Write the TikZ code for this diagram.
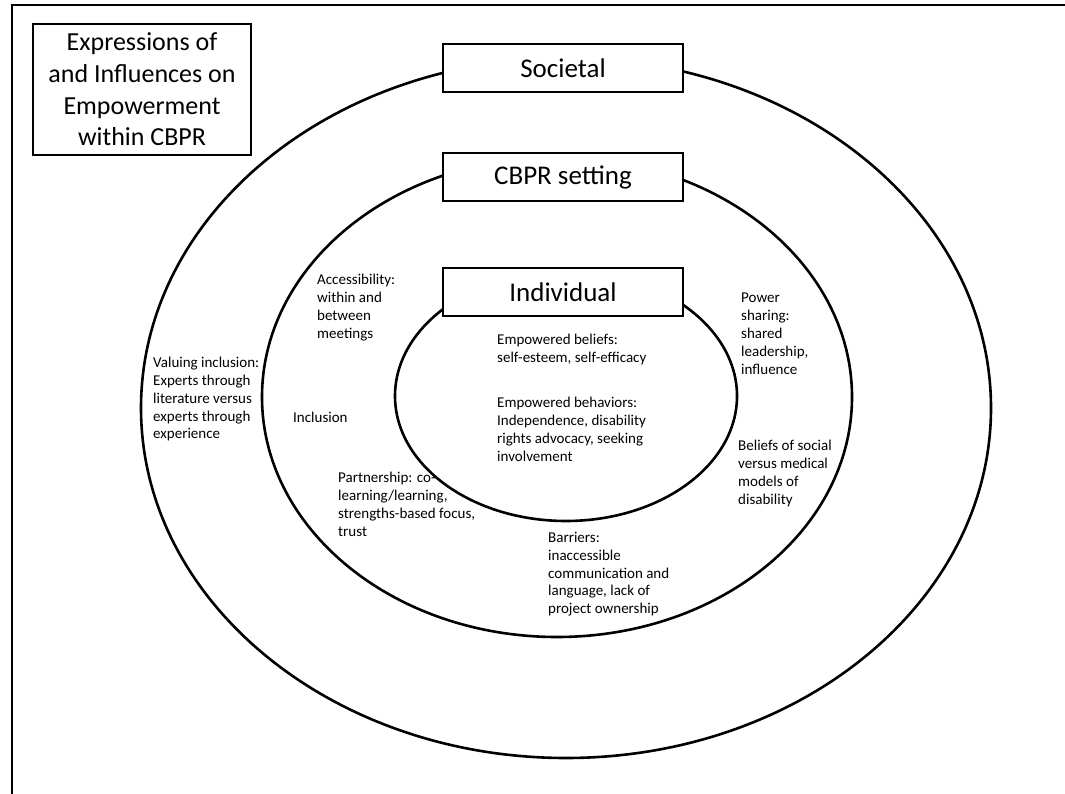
\documentclass[tikz,border=0pt]{standalone}
\usepackage{fontspec}
\setmainfont{Carlito}

\begin{document}
\begin{tikzpicture}[x=1pt, y=-1pt,
    ring/.style={line width=2.6pt},
    levelbox/.style={draw, line width=2.6pt, fill=white, minimum width=240pt, minimum height=48pt, inner sep=0pt, font=\fontsize{27}{32}\selectfont},
    note/.style={anchor=north west, align=left, inner sep=0pt, font=\fontsize{15}{17.8}\selectfont}]
    \useasboundingbox (0,0) rectangle (1065,794);

    % frame
    \draw[line width=1.8pt] (12,794) -- (12,5) -- (1065,5);

    % title
    \node[draw, line width=2.4pt, minimum width=218pt, minimum height=131pt, inner sep=0pt, align=center,
          font=\fontsize{26}{31.7}\selectfont] (title) at (142,89.5)
          {Expressions of\\and Influences on\\Empowerment\\within CBPR};

    % rings
    \draw[ring] (566,408) ellipse [x radius=425pt, y radius=350pt];
    \draw[ring] (557,397) ellipse [x radius=295pt, y radius=240pt];
    \draw[ring] (566,396) ellipse [x radius=171pt, y radius=125pt];

    % level names
    \node[levelbox] (societal) at (563,68) {Societal};
    \node[levelbox] (setting) at (563,177) {CBPR setting};
    \node[levelbox] (individual) at (563,292) {Individual};

    % individual
    \node[note] (beliefs) at (497,334) {Empowered beliefs:\\self-esteem, self-efficacy};
    \node[note] (behaviors) at (497,397) {Empowered behaviors:\\Independence, disability\\rights advocacy, seeking\\involvement};

    % CBPR setting
    \node[note] (access) at (317,274) {Accessibility:\\within and\\between\\meetings};
    \node[note] (inclusion) at (293,412) {Inclusion};
    \node[note] (partner) at (338,472) {Partnership: co-\\learning/learning,\\strengths-based focus,\\trust};
    \node[note] (power) at (741,293) {Power\\sharing:\\shared\\leadership,\\influence};
    \node[note] (models) at (738,440) {Beliefs of social\\versus medical\\models of\\disability};
    \node[note] (barriers) at (548,532) {Barriers:\\inaccessible\\communication and\\language, lack of\\project ownership};

    % societal
    \node[note] (valuing) at (153,357) {Valuing inclusion:\\Experts through\\literature versus\\experts through\\experience};
\end{tikzpicture}
\end{document}
